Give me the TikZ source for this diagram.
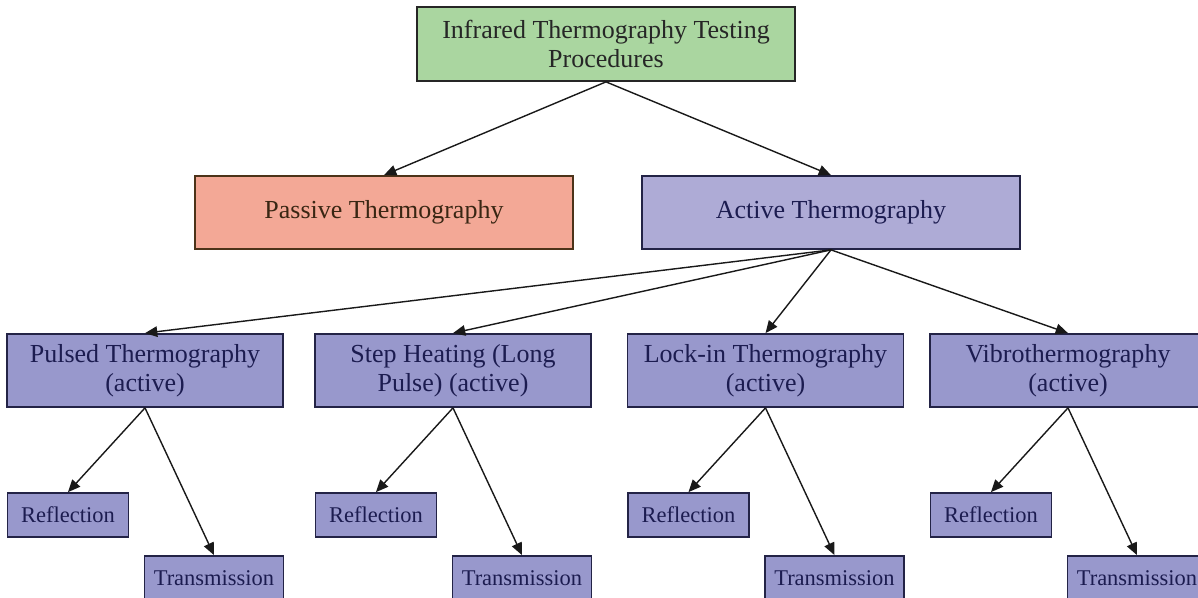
\documentclass[tikz,border=0pt]{standalone}
\usepackage{fontspec}
\setmainfont{Liberation Serif}
\usetikzlibrary{arrows.meta,positioning}

\definecolor{topgreen}{RGB}{170,214,160}
\definecolor{passivered}{RGB}{243,168,150}
\definecolor{activeblue}{RGB}{174,171,214}
\definecolor{methodblue}{RGB}{152,152,204}
\definecolor{navyline}{RGB}{35,35,70}
\definecolor{navytext}{RGB}{28,28,80}

\tikzset{
  box/.style={draw=black!85, line width=1pt, align=center, inner sep=2pt,
    font=\fontsize{14.8}{16.5}\selectfont},
  topbox/.style={box, fill=topgreen, text=black!85, minimum width=7.56cm, minimum height=1.48cm},
  passbox/.style={box, draw=brown!40!black, fill=passivered, text=brown!30!black, minimum width=7.56cm, minimum height=1.46cm},
  actbox/.style={box, draw=navyline, fill=activeblue, text=navytext, minimum width=7.56cm, minimum height=1.46cm},
  methbox/.style={box, draw=navyline, fill=methodblue, text=navytext, minimum width=5.52cm, minimum height=1.46cm},
  leafbox/.style={box, draw=navyline, fill=methodblue, text=navytext, minimum height=0.88cm,
    font=\fontsize{12.8}{14}\selectfont},
  link/.style={-{Triangle[length=7pt,width=6pt]}, line width=0.8pt, black!90}
}

\begin{document}
\begin{tikzpicture}[x=0.02cm,y=-0.02cm]
  \useasboundingbox (0,0) rectangle (1198,598);
  \node[topbox] (itt) at (606,44) {Infrared Thermography Testing\\Procedures};
  \node[passbox] (passive) at (384,212.5) {Passive Thermography};
  \node[actbox] (active) at (831,212.5) {Active Thermography};
  \draw[link] (itt.south) -- (passive.north);
  \draw[link] (itt.south) -- (active.north);
  % four active methods, each with reflection and transmission
  \foreach \x/\name/\txt in {145/pt/{Pulsed Thermography\\(active)},
      453/sh/{Step Heating (Long\\Pulse) (active)},
      765.5/li/{Lock-in Thermography\\(active)},
      1068/vt/{Vibrothermography\\(active)}} {
    \node[methbox] (\name) at (\x,370.5) {\txt};
    \node[leafbox, minimum width=2.42cm] (\name-r) at ({\x-77},515) {Reflection};
    \node[leafbox, minimum width=2.78cm] (\name-t) at ({\x+69},578) {Transmission};
    \draw[link] (active.south) -- (\name.north);
    \draw[link] (\name.south) -- (\name-r.north);
    \draw[link] (\name.south) -- (\name-t.north);
  }
\end{tikzpicture}
\end{document}
